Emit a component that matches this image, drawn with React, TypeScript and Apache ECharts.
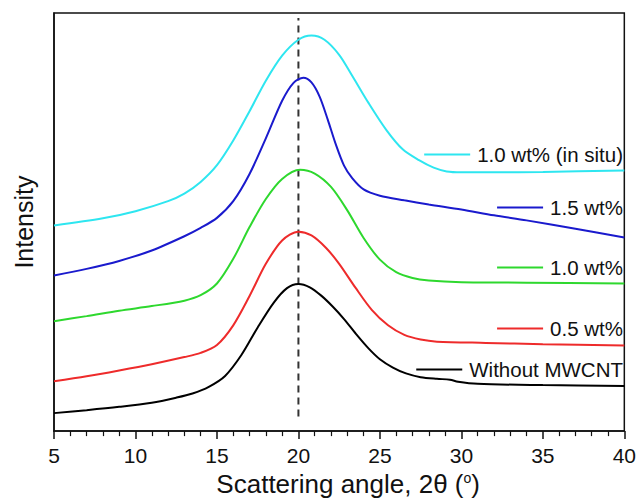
import React, { useEffect, useRef } from "react";
import * as echarts from "echarts";

const FONT = "'Liberation Sans', Arial, sans-serif";

const xTicks = [5, 10, 15, 20, 25, 30, 35, 40];

const seriesNames = ["1.0 wt% (in situ)", "1.5 wt%", "1.0 wt%", "0.5 wt%", "Without MWCNT"];
const seriesColors = ["#2EE6F0", "#1A1ACD", "#2ED82E", "#EE2B2B", "#000000"];

const withoutMWCNT: [number, number][] = [
  [5, 4.3], [7, 5.0], [9, 5.8], [11, 6.8], [12.5, 8.0], [13.5, 9.0], [14.5, 10.6], [15.5, 13.2],
  [16.5, 18.2], [17.5, 24.8], [18.5, 30.8], [19.3, 34.2], [20.0, 35.2], [20.7, 34.4], [21.4, 32.4],
  [22.1, 29.8], [22.8, 26.8], [23.5, 23.4], [24.3, 19.8], [25.0, 17.2], [25.8, 15.2], [26.6, 13.8],
  [27.5, 12.9], [28.5, 12.5], [29.3, 12.3], [29.8, 11.8], [31, 11.3], [35, 11.0], [40, 10.8],
];

const wt05: [number, number][] = [
  [5, 11.9], [7, 13.1], [9, 14.5], [11, 16.0], [13, 17.7], [14, 18.7], [15, 20.6], [16, 25.3],
  [17, 32.3], [18, 40.0], [19, 45.6], [20, 47.7], [20.8, 46.8], [21.7, 43.8], [22.5, 40.0],
  [23.5, 34.3], [24.5, 29.0], [25.5, 25.3], [26.5, 23.0], [27.5, 21.9], [28.5, 21.4],
  [31.5, 21.1], [35, 20.8], [40, 20.5],
];

const wt10: [number, number][] = [
  [5, 26.3], [7, 27.5], [9, 28.8], [11, 29.9], [13, 31.2], [14, 32.5], [15, 35.3], [16, 41.2],
  [17, 48.8], [18, 55.5], [19, 60.3], [20.1, 62.5], [21, 61.6], [22, 58.4], [23, 52.8],
  [24, 46.2], [25, 41.0], [26, 38.0], [27, 36.6], [28, 36.0], [30, 35.6], [34, 35.5], [40, 35.3],
];

const wt15: [number, number][] = [
  [5, 37.2], [7, 38.8], [9, 40.7], [11, 43.2], [13, 46.6], [14, 48.6], [15, 51.0], [16, 55.0],
  [17, 61.5], [18, 70.0], [19, 79.0], [19.7, 83.3], [20.3, 84.5], [20.8, 83.4], [21.3, 80.0],
  [21.8, 74.5], [22.3, 68.5], [22.8, 63.5], [23.3, 60.5], [24.0, 57.8], [25.0, 56.3],
  [26.5, 55.2], [28, 54.2], [30, 53.0], [32, 51.6], [34, 50.4], [37, 48.4], [40, 46.3],
];

const wt10InSitu: [number, number][] = [
  [5, 49.2], [8, 50.9], [10, 52.6], [12, 55.0], [13, 56.8], [14, 59.6], [15, 63.6], [16, 69.5],
  [17, 76.5], [18, 83.8], [19, 89.8], [20, 93.6], [20.8, 94.6], [21.6, 93.6], [22.5, 90.0],
  [23.3, 85.0], [24.3, 78.5], [25.4, 72.0], [26.4, 67.4], [27.4, 64.8], [28.3, 63.0],
  [29.1, 62.1], [30, 61.9], [32, 61.9], [35, 62.0], [40, 62.3],
];

const refLine: [number, number][] = [[20, 3.5], [20, 98.8]];

const seriesData = [wt10InSitu, wt15, wt10, wt05, withoutMWCNT];
const legendTops = [144, 197, 257, 318, 359];

export default function App() {
  const ref = useRef<HTMLDivElement>(null);
  useEffect(() => {
    if (!ref.current) return;
    const chart = echarts.init(ref.current, undefined, { renderer: "svg" });
    const lines = seriesNames.map((name, i) => ({
      name,
      type: "line",
      data: seriesData[i],
      smooth: 0.3,
      symbol: "none",
      lineStyle: { color: seriesColors[i], width: 2 },
      itemStyle: { color: seriesColors[i] },
      z: 3,
    }));
    chart.setOption({
      animation: false,
      backgroundColor: "#ffffff",
      textStyle: { fontFamily: FONT },
      grid: {
        left: 54,
        right: 14,
        top: 13,
        bottom: 68,
        show: true,
        borderColor: "#111",
        borderWidth: 1.5,
        backgroundColor: "transparent",
      },
      legend: seriesNames.map((name, i) => ({
        data: [name],
        right: 16,
        top: legendTops[i],
        padding: 0,
        icon: "rect",
        itemWidth: 46,
        itemHeight: 2,
        selectedMode: false,
        textStyle: { fontSize: 20.5, color: "#111", fontFamily: FONT, padding: [0, 0, 0, 2] },
      })),
      xAxis: {
        type: "value",
        min: 5,
        max: 40,
        interval: 5,
        name: "{a|Scattering angle, 2θ (}{s|o}{a|)}",
        nameLocation: "middle",
        nameGap: 37,
        nameTextStyle: {
          fontFamily: FONT,
          color: "#111",
          fontSize: 26,
          padding: [0, 0, 0, 18],
          rich: {
            a: { fontSize: 26, fontFamily: FONT, color: "#111" },
            s: { fontSize: 14, fontFamily: FONT, color: "#111", verticalAlign: "top" },
          },
        },
        axisLine: { show: true, onZero: false, lineStyle: { color: "#111", width: 1.5 } },
        axisTick: { show: true, inside: false, length: 8, lineStyle: { color: "#111", width: 1.5 } },
        minorTick: { show: true, splitNumber: 5, length: 5, lineStyle: { color: "#111", width: 1.2 } },
        axisLabel: {
          fontSize: 21,
          color: "#111",
          fontFamily: FONT,
          margin: 14,
          customValues: xTicks,
        },
        splitLine: { show: false },
      },
      yAxis: {
        type: "value",
        min: 0,
        max: 100,
        name: "Intensity",
        nameLocation: "middle",
        nameGap: 18,
        nameTextStyle: { fontFamily: FONT, color: "#111", fontSize: 25 },
        axisLine: { show: true, onZero: false, lineStyle: { color: "#111", width: 1.5 } },
        axisTick: { show: false },
        axisLabel: { show: false },
        splitLine: { show: false },
      },
      series: [
        ...lines,
        {
          name: "ref",
          type: "line",
          data: refLine,
          symbol: "none",
          lineStyle: { color: "#333", width: 2, type: [7, 5] },
          z: 2,
        },
      ],
    });
    return () => chart.dispose();
  }, []);
  return <div ref={ref} style={{ width: 639, height: 502, position: "absolute", left: 0, top: 0 }} />;
}
